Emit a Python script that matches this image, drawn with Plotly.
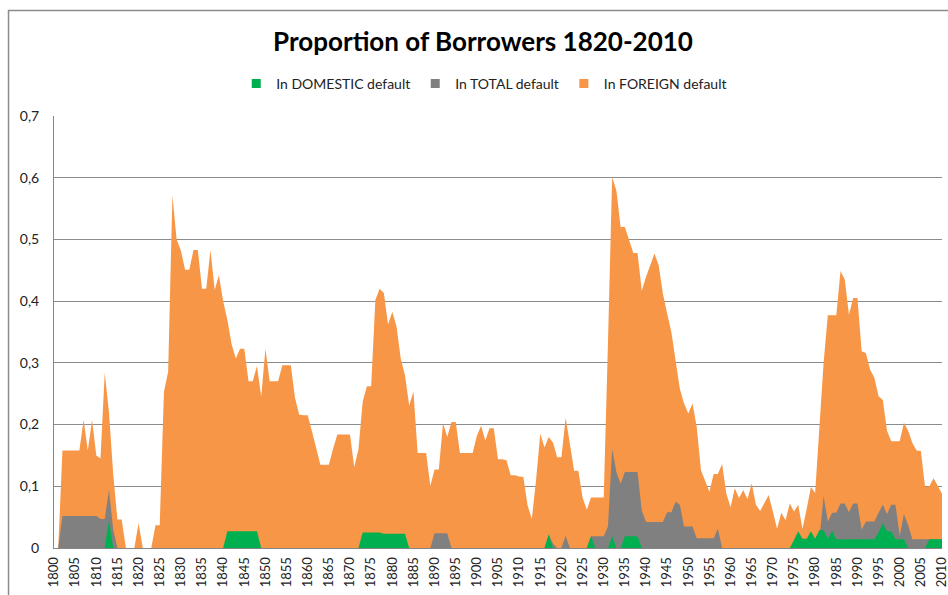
import plotly.graph_objects as go

years = list(range(1800, 2011))

foreign = [
    0, 0, 0.158, 0.158, 0.158, 0.158, 0.158, 0.208, 0.158, 0.208,          # 1800-1809
    0.15, 0.145, 0.284, 0.22, 0.12, 0.046, 0.046, 0, 0, 0,                # 1810-1819
    0.04, 0, 0, 0, 0.037, 0.037, 0.253, 0.286, 0.571, 0.50,               # 1820-1829
    0.482, 0.451, 0.451, 0.483, 0.483, 0.42, 0.42, 0.483, 0.418, 0.442,   # 1830-1839
    0.40, 0.37, 0.33, 0.307, 0.323, 0.323, 0.27, 0.27, 0.295, 0.245,      # 1840-1849
    0.323, 0.27, 0.27, 0.27, 0.296, 0.296, 0.296, 0.243, 0.216, 0.215,    # 1850-1859
    0.215, 0.189, 0.162, 0.135, 0.135, 0.135, 0.161, 0.184, 0.184, 0.184, # 1860-1869
    0.184, 0.131, 0.16, 0.237, 0.262, 0.262, 0.402, 0.42, 0.413, 0.362,   # 1870-1879
    0.383, 0.359, 0.307, 0.28, 0.231, 0.253, 0.154, 0.154, 0.154, 0.101,  # 1880-1889
    0.127, 0.127, 0.202, 0.18, 0.204, 0.204, 0.154, 0.154, 0.154, 0.154, # 1890-1899
    0.182, 0.198, 0.174, 0.194, 0.194, 0.144, 0.144, 0.142, 0.118, 0.118, # 1900-1909
    0.116, 0.115, 0.069, 0.047, 0.11, 0.185, 0.163, 0.18, 0.171, 0.147,   # 1910-1919
    0.147, 0.211, 0.169, 0.125, 0.125, 0.082, 0.062, 0.082, 0.082, 0.082, # 1920-1929
    0.082, 0.33, 0.601, 0.579, 0.52, 0.52, 0.498, 0.478, 0.478, 0.417,    # 1930-1939
    0.439, 0.458, 0.477, 0.458, 0.412, 0.38, 0.35, 0.304, 0.258, 0.234,   # 1940-1949
    0.218, 0.234, 0.196, 0.126, 0.107, 0.091, 0.12, 0.12, 0.136, 0.088,   # 1950-1959
    0.066, 0.097, 0.081, 0.094, 0.079, 0.105, 0.07, 0.06, 0.073, 0.086,   # 1960-1969
    0.059, 0.031, 0.057, 0.045, 0.072, 0.059, 0.07, 0.031, 0.063, 0.099,  # 1970-1979
    0.089, 0.2, 0.3, 0.377, 0.377, 0.377, 0.449, 0.435, 0.378, 0.405,     # 1980-1989
    0.405, 0.319, 0.316, 0.289, 0.276, 0.246, 0.24, 0.19, 0.173, 0.173,   # 1990-1999
    0.173, 0.203, 0.19, 0.17, 0.158, 0.157, 0.099, 0.1, 0.113, 0.101,     # 2000-2009
    0.088,                                                                # 2010
]

total = [
    0, 0, 0.052, 0.052, 0.052, 0.052, 0.052, 0.052, 0.052, 0.052,         # 1800-1809
    0.052, 0.047, 0.047, 0.094, 0.03, 0, 0, 0, 0, 0,                      # 1810-1819
    0, 0, 0, 0, 0, 0, 0, 0, 0, 0,                                         # 1820-1829
    0, 0, 0, 0, 0, 0, 0, 0, 0, 0,                                         # 1830-1839
    0, 0, 0, 0, 0, 0, 0, 0, 0, 0,                                         # 1840-1849
    0, 0, 0, 0, 0, 0, 0, 0, 0, 0,                                         # 1850-1859
    0, 0, 0, 0, 0, 0, 0, 0, 0, 0,                                         # 1860-1869
    0, 0, 0, 0, 0, 0, 0, 0, 0, 0,                                         # 1870-1879
    0, 0, 0, 0, 0, 0, 0, 0, 0, 0,                                         # 1880-1889
    0.024, 0.024, 0.024, 0.024, 0, 0, 0, 0, 0, 0,                         # 1890-1899
    0, 0, 0, 0, 0, 0, 0, 0, 0, 0,                                         # 1900-1909
    0, 0, 0, 0, 0, 0, 0, 0.022, 0.007, 0,                                 # 1910-1919
    0, 0.02, 0, 0, 0, 0, 0, 0.019, 0.019, 0.019,                          # 1920-1929
    0.019, 0.035, 0.161, 0.123, 0.104, 0.123, 0.123, 0.123, 0.123, 0.061, # 1930-1939
    0.042, 0.042, 0.042, 0.042, 0.042, 0.058, 0.058, 0.075, 0.07, 0.035,  # 1940-1949
    0.035, 0.035, 0.016, 0.016, 0.016, 0.016, 0.016, 0.031, 0, 0,         # 1950-1959
    0, 0, 0, 0, 0, 0, 0, 0, 0, 0,                                         # 1960-1969
    0, 0, 0, 0, 0, 0, 0, 0, 0, 0,                                         # 1970-1979
    0, 0.014, 0.084, 0.043, 0.057, 0.057, 0.072, 0.072, 0.058, 0.072,     # 1980-1989
    0.072, 0.03, 0.043, 0.043, 0.043, 0.057, 0.07, 0.055, 0.07, 0.07,     # 1990-1999
    0.02, 0.055, 0.037, 0.014, 0.014, 0.014, 0.014, 0.014, 0.014, 0.014,  # 2000-2009
    0.014,                                                                # 2010
]

domestic = [
    0, 0, 0, 0, 0, 0, 0, 0, 0, 0,                                         # 1800-1809
    0, 0, 0, 0.045, 0, 0, 0, 0, 0, 0,                                     # 1810-1819
    0, 0, 0, 0, 0, 0, 0, 0, 0, 0,                                         # 1820-1829
    0, 0, 0, 0, 0, 0, 0, 0, 0, 0,                                         # 1830-1839
    0, 0.027, 0.027, 0.027, 0.027, 0.027, 0.027, 0.027, 0.027, 0,         # 1840-1849
    0, 0, 0, 0, 0, 0, 0, 0, 0, 0,                                         # 1850-1859
    0, 0, 0, 0, 0, 0, 0, 0, 0, 0,                                         # 1860-1869
    0, 0, 0, 0.025, 0.025, 0.025, 0.025, 0.025, 0.023, 0.023,             # 1870-1879
    0.023, 0.023, 0.023, 0.023, 0, 0, 0, 0, 0, 0,                         # 1880-1889
    0, 0, 0, 0, 0, 0, 0, 0, 0, 0,                                         # 1890-1899
    0, 0, 0, 0, 0, 0, 0, 0, 0, 0,                                         # 1900-1909
    0, 0, 0, 0, 0, 0, 0, 0.022, 0, 0,                                     # 1910-1919
    0, 0, 0, 0, 0, 0, 0, 0.019, 0, 0,                                     # 1920-1929
    0, 0, 0.019, 0, 0, 0.019, 0.019, 0.019, 0.019, 0,                     # 1930-1939
    0, 0, 0, 0, 0, 0, 0, 0, 0, 0,                                         # 1940-1949
    0, 0, 0, 0, 0, 0, 0, 0, 0, 0,                                         # 1950-1959
    0, 0, 0, 0, 0, 0, 0, 0, 0, 0,                                         # 1960-1969
    0, 0, 0, 0, 0, 0.013, 0.027, 0.015, 0.015, 0.027,                     # 1970-1979
    0.015, 0.029, 0.029, 0.015, 0.028, 0.014, 0.014, 0.014, 0.014, 0.014, # 1980-1989
    0.014, 0.014, 0.014, 0.014, 0.014, 0.025, 0.04, 0.027, 0.027, 0.014,  # 1990-1999
    0.014, 0.014, 0, 0, 0, 0, 0, 0.014, 0.014, 0.014,                     # 2000-2009
    0.014,                                                                # 2010
]

x_tick_years = list(range(1800, 2011, 5))
x_tick_labels = [str(y) for y in x_tick_years]
y_tick_vals = [0, 0.1, 0.2, 0.3, 0.4, 0.5, 0.6, 0.7]
y_tick_labels = ["0", "0,1", "0,2", "0,3", "0,4", "0,5", "0,6", "0,7"]

series_names = ["In DOMESTIC default", "In TOTAL default", "In FOREIGN default"]
colors = {"In DOMESTIC default": "#00B050",
          "In TOTAL default": "#808080",
          "In FOREIGN default": "#F79646"}

FONT = "Lato"
W, H = 948, 595
L, R, T, B = 53.5, 942, 116, 547.7

fig = go.Figure()

# areas: foreign at back, total, domestic in front
for name, vals in [("In FOREIGN default", foreign),
                   ("In TOTAL default", total),
                   ("In DOMESTIC default", domestic)]:
    fig.add_trace(go.Scatter(
        x=years, y=vals, mode="lines", fill="tozeroy",
        line=dict(width=0, color=colors[name]),
        fillcolor=colors[name], name=name, showlegend=False,
        hoverinfo="x+y+name",
    ))

# legend entries (small squares like the original)
for name in series_names:
    fig.add_trace(go.Scatter(
        x=[None], y=[None], mode="markers", name=name,
        marker=dict(symbol="square", size=9, color=colors[name]),
        showlegend=True,
    ))

pw = R - L
ph = B - T

def px_x(p):
    return (p - L) / pw

def px_y(p):
    return (B - p) / ph

fig.update_layout(
    width=W, height=H,
    margin=dict(l=L, r=W - R, t=T, b=H - B, pad=0, autoexpand=False),
    paper_bgcolor="white", plot_bgcolor="white",
    separators=",.",
    font=dict(family=FONT, size=13, color="#222222"),
    title=dict(text="<b>Proportion of Borrowers 1820-2010</b>",
               x=483 / W, xref="container", xanchor="center",
               y=1 - 42 / H, yref="container", yanchor="middle",
               font=dict(family=FONT, size=26, color="#000000")),
    legend=dict(orientation="h", x=px_x(484), xanchor="center",
                y=px_y(84), yanchor="middle",
                font=dict(family=FONT, size=14, color="#222222"),
                traceorder="normal", itemwidth=30,
                bgcolor="rgba(0,0,0,0)"),
    xaxis=dict(range=[1800, 2010], tickmode="array",
               tickvals=x_tick_years, ticktext=x_tick_labels,
               tickangle=-90, tickfont=dict(family=FONT, size=13, color="#222222"),
               ticklabeloverflow="allow", automargin=False,
               showgrid=False, zeroline=False,
               showline=True, linecolor="#868686", linewidth=1,
               ticks="outside", ticklen=3, tickcolor="rgba(0,0,0,0)",
               fixedrange=True),
    yaxis=dict(range=[0, 0.7], tickmode="array",
               tickvals=y_tick_vals, ticktext=y_tick_labels,
               tickfont=dict(family=FONT, size=14, color="#222222"),
               automargin=False,
               showgrid=True, gridcolor="#8c8c8c", gridwidth=1,
               zeroline=False,
               showline=True, linecolor="#868686", linewidth=1,
               ticks="outside", ticklen=11, tickcolor="rgba(0,0,0,0)",
               fixedrange=True),
    shapes=[dict(type="rect", xref="paper", yref="paper",
                 x0=px_x(8), x1=px_x(990), y0=px_y(640), y1=px_y(10.5),
                 line=dict(color="#8c8c8c", width=1.5),
                 fillcolor="rgba(0,0,0,0)", layer="above")],
)

fig.write_html("out.html",
               config={"displayModeBar": False},
               post_script="document.body.style.margin='0px';document.body.style.overflow='hidden';")
